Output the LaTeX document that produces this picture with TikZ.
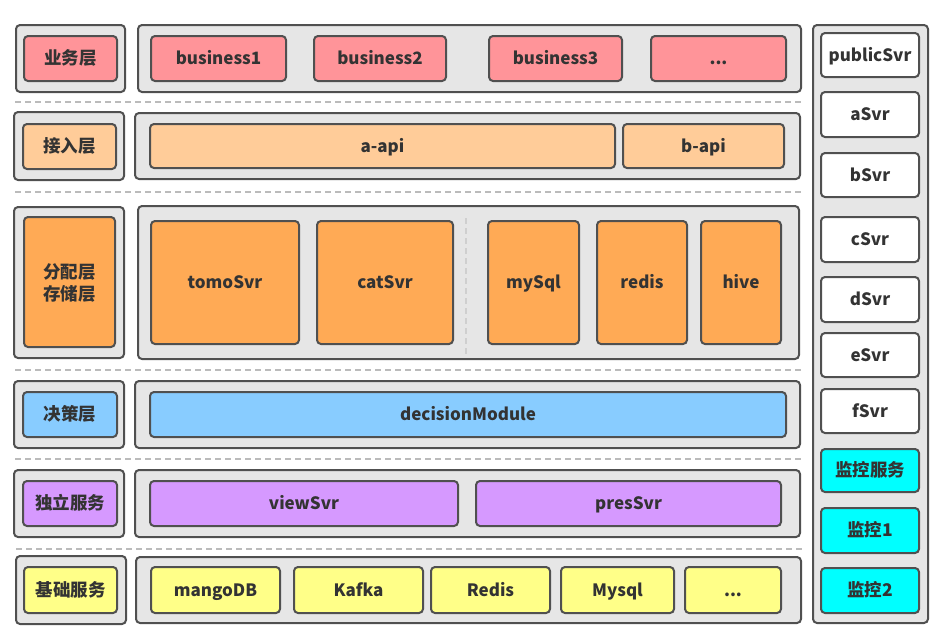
\documentclass[tikz,border=0pt]{standalone}
\usepackage{fontspec}
\setmainfont{Noto Sans CJK SC}
\definecolor{cpink}{HTML}{FF9499}
\definecolor{clor}{HTML}{FFCC99}
\definecolor{cor}{HTML}{FFAA55}
\definecolor{cblue}{HTML}{88CCFF}
\definecolor{cpur}{HTML}{D699FF}
\definecolor{cyel}{HTML}{FFFF88}
\definecolor{ccyan}{HTML}{00FFFF}
\definecolor{cgray}{HTML}{E6E6E6}
\definecolor{cedge}{HTML}{505050}
\definecolor{ctext}{HTML}{333333}
\definecolor{cdash}{HTML}{BBBBBB}
\newcommand\vstr{\rule[-4.5pt]{0pt}{21pt}}
\newcommand\bx[7]{\node[#6, minimum width={(#4-#2)*1pt}, minimum height={(#5-#3)*1pt}] (#1) at ({(#2+#4)/2},{(#3+#5)/2}) {\vstr#7};}
\tikzset{
  base/.style={draw=cedge, line width=2pt, rounded corners=4pt, inner sep=0pt, outer sep=0pt, text=ctext, font=\fontsize{17}{20}\selectfont\bfseries, align=center},
  cont/.style={base, fill=cgray},
  pinkbox/.style={base, fill=cpink},
  lorbox/.style={base, fill=clor},
  orbox/.style={base, fill=cor},
  bluebox/.style={base, fill=cblue},
  purbox/.style={base, fill=cpur},
  yelbox/.style={base, fill=cyel},
  cyanbox/.style={base, fill=ccyan},
  whitebox/.style={base, fill=white},
  cjk/.style={font=\fontsize{17.5}{20}\selectfont\bfseries},
  sep/.style={draw=cdash, line width=1.2pt, dash pattern=on 6pt off 4pt},
}
\begin{document}
\begin{tikzpicture}[x=1pt,y=-1pt]
\useasboundingbox (0,0) rectangle (947,641);
% separators
\draw[sep] (15,102) -- (801,102);
\draw[sep] (15,192) -- (801,192);
\draw[sep] (15,370) -- (801,370);
\draw[sep] (15,459) -- (801,459);
\draw[sep] (16,549) -- (803,549);
% row 1
\bx{c1l}{16}{25}{125}{92}{cont}{}
\bx{c1r}{138}{25}{801}{92}{cont}{}
\bx{l1}{24}{36}{117}{81}{pinkbox,cjk}{业务层}
\bx{b1}{151}{36}{286}{81}{pinkbox}{business1}
\bx{b2}{314}{36}{446}{81}{pinkbox}{business2}
\bx{b3}{489}{36}{622}{81}{pinkbox}{business3}
\bx{b4}{651}{36}{786}{81}{pinkbox}{...}
% row 2
\bx{c2l}{14}{112}{124}{180}{cont}{}
\bx{c2r}{135}{113}{800}{179}{cont}{}
\bx{l2}{23}{124}{116}{169}{lorbox,cjk}{接入层}
\bx{aapi}{150}{124}{615}{168}{lorbox}{a-api}
\bx{bapi}{623}{124}{784}{168}{lorbox}{b-api}
% row 3
\bx{c3l}{14}{207}{124}{358}{cont}{}
\bx{c3r}{138}{206}{799}{359}{cont}{}
\bx{l3}{24}{217}{115}{347}{orbox,cjk}{分配层\\[1.5pt]存储层}
\bx{tomo}{151}{221}{299}{344}{orbox}{tomoSvr}
\bx{cat}{317}{221}{453}{344}{orbox}{catSvr}
\bx{mysql}{488}{221}{579}{344}{orbox}{mySql}
\bx{redis}{597}{221}{687}{344}{orbox}{redis}
\bx{hive}{701}{221}{781}{344}{orbox}{hive}
\draw[draw=cdash!70, line width=1.2pt, dash pattern=on 6pt off 4pt] (466,218) -- (466,355);
% row 4
\bx{c4l}{14}{381}{124}{448}{cont}{}
\bx{c4r}{135}{381}{800}{448}{cont}{}
\bx{l4}{23}{392}{117}{437}{bluebox,cjk}{决策层}
\bx{dec}{150}{392}{786}{437}{bluebox}{decisionModule}
% row 5
\bx{c5l}{14}{470}{124}{537}{cont}{}
\bx{c5r}{135}{470}{800}{537}{cont}{}
\bx{l5}{23}{481}{117}{526}{purbox,cjk}{独立服务}
\bx{view}{150}{481}{458}{526}{purbox}{viewSvr}
\bx{pres}{476}{481}{781}{526}{purbox}{presSvr}
% row 6
\bx{c6l}{16}{556}{126}{624}{cont}{}
\bx{c6r}{136}{557}{801}{623}{cont}{}
\bx{l6}{24}{567}{117}{613}{yelbox,cjk}{基础服务}
\bx{mango}{151}{567}{280}{613}{yelbox}{mangoDB}
\bx{kafka}{294}{567}{423}{613}{yelbox}{Kafka}
\bx{redis2}{431}{567}{550}{613}{yelbox}{Redis}
\bx{mysql2}{561}{567}{674}{613}{yelbox}{Mysql}
\bx{etc}{685}{567}{781}{613}{yelbox}{...}
% right column
\bx{col}{813}{25}{928}{623}{cont}{}
\bx{pub}{821}{33}{919}{77}{whitebox}{publicSvr}
\bx{as}{821}{92}{919}{137}{whitebox}{aSvr}
\bx{bs}{821}{153}{919}{197}{whitebox}{bSvr}
\bx{cs}{821}{217}{919}{262}{whitebox}{cSvr}
\bx{ds}{821}{277}{919}{322}{whitebox}{dSvr}
\bx{es}{821}{333}{919}{377}{whitebox}{eSvr}
\bx{fs}{821}{389}{919}{433}{whitebox}{fSvr}
\bx{mon}{821}{449}{919}{492}{cyanbox,cjk}{监控服务}
\bx{m1}{821}{508}{919}{553}{cyanbox,cjk}{监控1}
\bx{m2}{821}{568}{919}{613}{cyanbox,cjk}{监控2}
\end{tikzpicture}
\end{document}
